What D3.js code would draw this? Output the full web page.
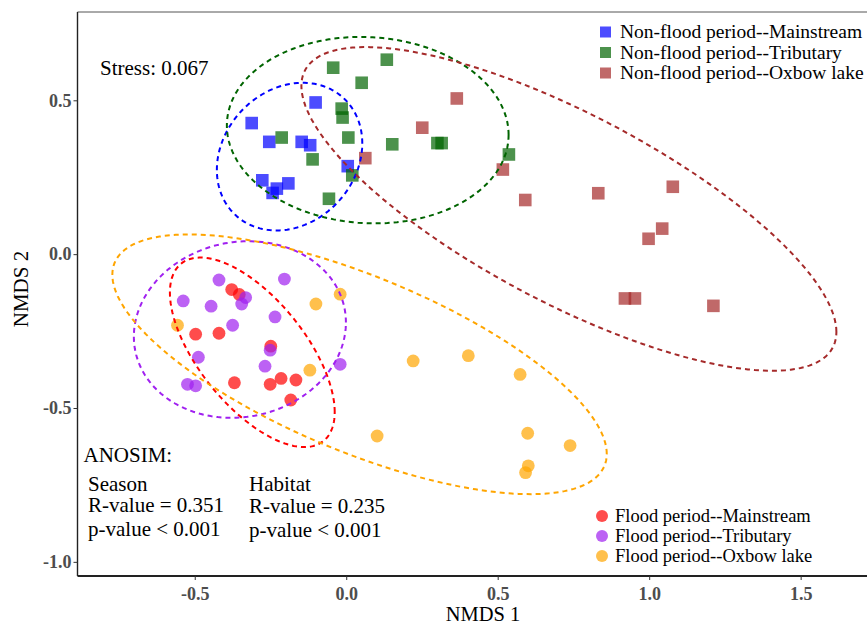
<!DOCTYPE html>
<html>
<head>
<meta charset="utf-8">
<script src="https://cdn.jsdelivr.net/npm/d3@7"></script>
<style>
  body { margin: 0; background: #fff; }
  text { font-family: "Liberation Serif", "Times New Roman", serif; }
</style>
</head>
<body>
<script>
// NMDS scores
var groups = ["Non-flood period--Mainstream", "Non-flood period--Tributary", "Non-flood period--Oxbow lake",
              "Flood period--Mainstream", "Flood period--Tributary", "Flood period--Oxbow lake"];
var colors = ["#0000FF", "#006400", "#A52A2A", "#FF0000", "#A020F0", "#FFA500"];

var nfMainX = [-0.312, -0.254, -0.147, -0.119, -0.101, -0.277, -0.229, -0.243, -0.191, 0.005];
var nfMainY = [0.426, 0.365, 0.365, 0.354, 0.493, 0.240, 0.213, 0.199, 0.230, 0.286];
var nfTribX = [-0.043, 0.134, 0.051, -0.015, -0.012, -0.213, 0.007, 0.152, -0.111, 0.020, -0.057, 0.301, 0.315, 0.537];
var nfTribY = [0.606, 0.632, 0.557, 0.473, 0.444, 0.379, 0.379, 0.357, 0.308, 0.256, 0.180, 0.361, 0.361, 0.324];
var nfOxX = [0.365, 0.251, 0.063, 0.517, 0.591, 0.832, 1.078, 1.043, 0.998, 0.920, 0.953, 1.212];
var nfOxY = [0.506, 0.411, 0.312, 0.275, 0.176, 0.198, 0.219, 0.083, 0.050, -0.144, -0.144, -0.168];
var fMainX = [-0.378, -0.353, -0.497, -0.420, -0.249, -0.369, -0.251, -0.215, -0.166, -0.183];
var fMainY = [-0.115, -0.131, -0.260, -0.257, -0.299, -0.418, -0.423, -0.404, -0.409, -0.474];
var fTribX = [-0.420, -0.204, -0.538, -0.446, -0.332, -0.345, -0.235, -0.375, -0.488, -0.251, -0.268, -0.020, -0.524, -0.497];
var fTribY = [-0.084, -0.081, -0.152, -0.169, -0.141, -0.162, -0.204, -0.231, -0.335, -0.312, -0.364, -0.358, -0.423, -0.428];
var fOxX = [-0.557, -0.100, -0.020, -0.120, 0.221, 0.403, 0.574, 0.102, 0.599, 0.739, 0.601, 0.592];
var fOxY = [-0.231, -0.162, -0.130, -0.377, -0.347, -0.330, -0.391, -0.591, -0.582, -0.622, -0.688, -0.710];

// 95% ellipses: centre, half width, half height, correlation (data units)
var ellCx = [-0.187, 0.071, 0.735, -0.310, -0.351, 0.044];
var ellCy = [0.317, 0.403, 0.147, -0.319, -0.245, -0.358];
var ellW = [0.240, 0.465, 0.883, 0.272, 0.350, 0.816];
var ellH = [0.240, 0.303, 0.526, 0.308, 0.287, 0.422];
var ellR = [0.18, -0.05, -0.76, -0.63, 0.08, -0.69];

var xTicks = [-0.5, 0, 0.5, 1.0, 1.5];
var yTicks = [-1.0, -0.5, 0, 0.5];

var xs = [nfMainX, nfTribX, nfOxX, fMainX, fTribX, fOxX];
var ys = [nfMainY, nfTribY, nfOxY, fMainY, fTribY, fOxY];

var width = 867, height = 625;
var plotLeft = 77.5, plotTop = 12, plotBottom = 576;

var svg = d3.select("body").append("svg")
    .attr("width", width)
    .attr("height", height);

var x = d3.scaleLinear().domain([-0.887, 1.719]).range([plotLeft, width]);
var y = d3.scaleLinear().domain([-1.046, 0.787]).range([plotBottom, plotTop]);

// points
xs.forEach(function(gx, g) {
  var pts = gx.map(function(v, i) { return [v, ys[g][i]]; });
  if (g < 3) {
    svg.append("g").selectAll("rect")
      .data(pts)
      .enter().append("rect")
        .attr("x", function(d) { return x(d[0]) - 6.3; })
        .attr("y", function(d) { return y(d[1]) - 6.3; })
        .attr("width", 12.6)
        .attr("height", 12.6)
        .style("fill", colors[g])
        .style("fill-opacity", 0.7);
  } else {
    svg.append("g").selectAll("circle")
      .data(pts)
      .enter().append("circle")
        .attr("cx", function(d) { return x(d[0]); })
        .attr("cy", function(d) { return y(d[1]); })
        .attr("r", 6.4)
        .style("fill", colors[g])
        .style("fill-opacity", 0.7);
  }
});

// ellipses
var line = d3.line()
    .x(function(d) { return x(d[0]); })
    .y(function(d) { return y(d[1]); })
    .curve(d3.curveLinearClosed);

groups.forEach(function(name, g) {
  var r = ellR[g];
  var pts = d3.range(0, 360, 2).map(function(a) {
    var t = a * Math.PI / 180;
    return [ellCx[g] + ellW[g] * Math.cos(t),
            ellCy[g] + ellH[g] * (r * Math.cos(t) + Math.sqrt(1 - r * r) * Math.sin(t))];
  });
  svg.append("path")
      .attr("d", line(pts))
      .style("fill", "none")
      .style("stroke", colors[g])
      .style("stroke-width", 2)
      .style("stroke-dasharray", "5,4");
});

// frame
svg.append("line").attr("x1", plotLeft).attr("x2", width).attr("y1", plotTop).attr("y2", plotTop)
    .style("stroke", "#555").style("stroke-width", 1);
svg.append("line").attr("x1", plotLeft).attr("x2", plotLeft).attr("y1", plotTop).attr("y2", plotBottom)
    .style("stroke", "#222").style("stroke-width", 1.4);
svg.append("line").attr("x1", plotLeft).attr("x2", width).attr("y1", plotBottom).attr("y2", plotBottom)
    .style("stroke", "#222").style("stroke-width", 1.8);

// axes
var fmt = function(d) { return d.toFixed(1); };
var xAxis = svg.append("g")
    .attr("transform", "translate(0," + plotBottom + ")")
    .call(d3.axisBottom(x).tickValues(xTicks).tickFormat(fmt).tickSize(4).tickPadding(7));
var yAxis = svg.append("g")
    .attr("transform", "translate(" + plotLeft + ",0)")
    .call(d3.axisLeft(y).tickValues(yTicks).tickFormat(fmt).tickSize(4).tickPadding(2));

[xAxis, yAxis].forEach(function(a) {
  a.select(".domain").remove();
  a.selectAll(".tick line").style("stroke", "#333");
  a.selectAll(".tick text")
      .style("font-family", "'Liberation Serif', serif")
      .style("font-size", "18px")
      .style("font-weight", "bold")
      .style("fill", "#4d4d4d");
});

svg.append("text")
    .attr("x", 483).attr("y", 621)
    .attr("text-anchor", "middle")
    .style("font-size", "20.5px")
    .text("NMDS 1");
svg.append("text")
    .attr("transform", "translate(28,289) rotate(-90)")
    .attr("text-anchor", "middle")
    .style("font-size", "21px")
    .text("NMDS 2");

// annotations
svg.append("text").attr("x", 100).attr("y", 75).style("font-size", "21px").text("Stress: 0.067");

var stats = [
  ["ANOSIM:", 83.5, 462],
  ["Season", 88, 491], ["R-value = 0.351", 88, 512], ["p-value < 0.001", 88, 536],
  ["Habitat", 249, 491], ["R-value = 0.235", 249, 513], ["p-value < 0.001", 249, 537]
];
svg.append("g").selectAll("text")
  .data(stats)
  .enter().append("text")
    .attr("x", function(d) { return d[1]; })
    .attr("y", function(d) { return d[2]; })
    .style("font-size", "21px")
    .text(function(d) { return d[0]; });

// legends
var legTop = svg.append("g");
groups.slice(0, 3).forEach(function(name, i) {
  var cy = 32 + i * 20.5;
  legTop.append("rect")
      .attr("x", 600).attr("y", cy - 5.5).attr("width", 11).attr("height", 11)
      .style("fill", colors[i]).style("fill-opacity", 0.7);
  legTop.append("text")
      .attr("x", 620).attr("y", cy + 6)
      .style("font-size", "19.5px")
      .text(name);
});
var legBottom = svg.append("g");
groups.slice(3).forEach(function(name, i) {
  var cy = 516 + i * 20;
  legBottom.append("circle")
      .attr("cx", 602).attr("cy", cy).attr("r", 6)
      .style("fill", colors[i + 3]).style("fill-opacity", 0.7);
  legBottom.append("text")
      .attr("x", 615).attr("y", cy + 6)
      .style("font-size", "18.5px")
      .text(name);
});
</script>
</body>
</html>
